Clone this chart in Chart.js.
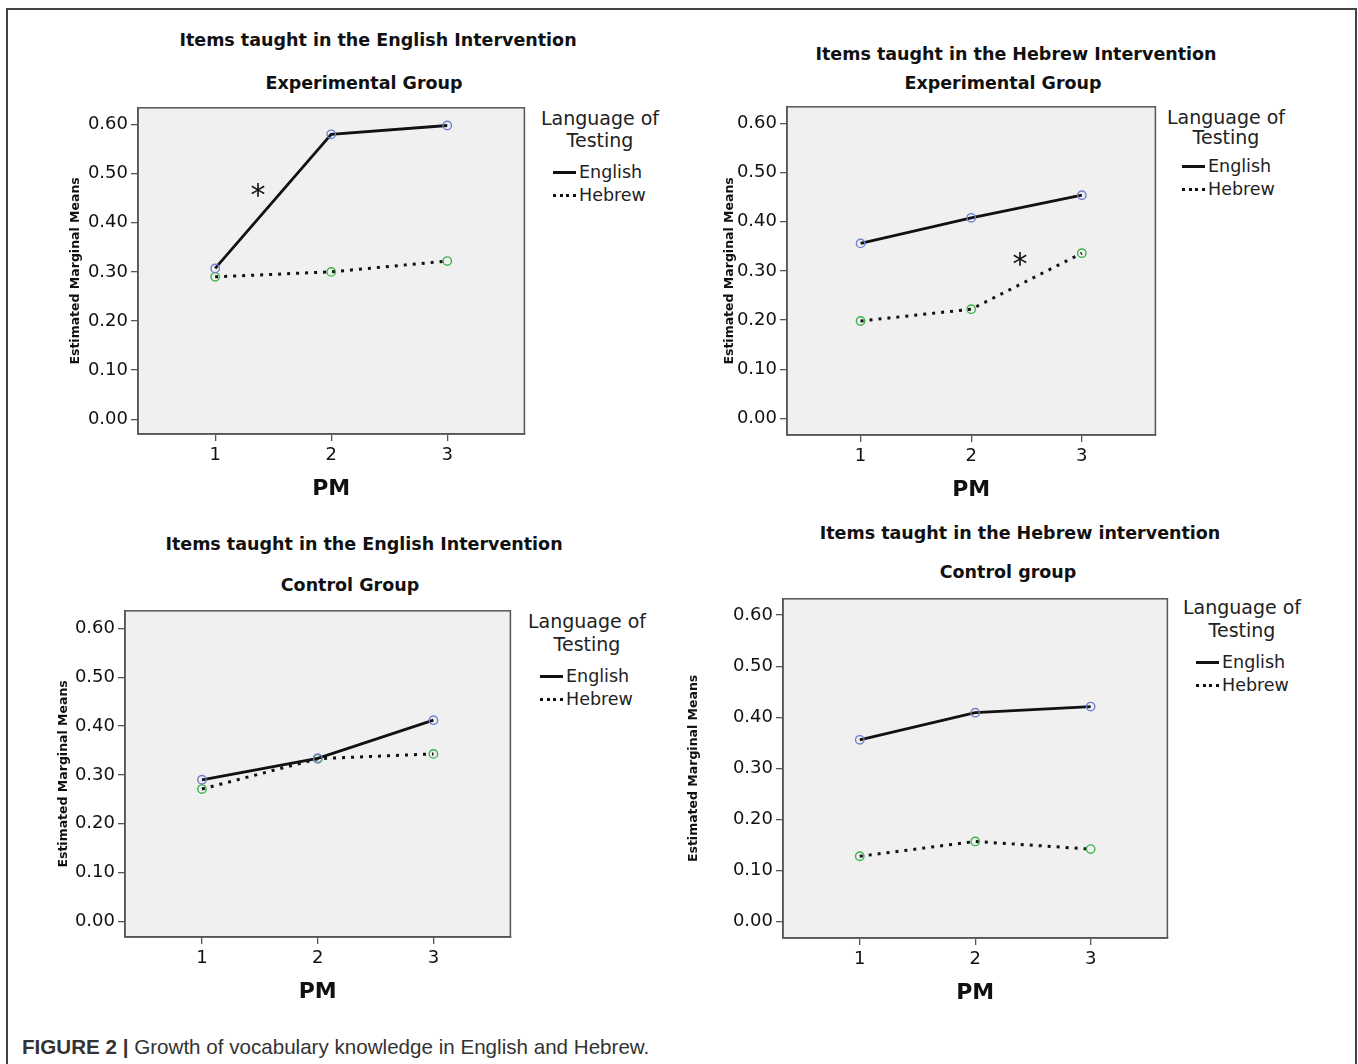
<!DOCTYPE html>
<html lang="en">
<head>
    <meta charset="UTF-8">
    <title>Growth of vocabulary knowledge</title>
    <script src="https://cdn.jsdelivr.net/npm/chart.js"></script>
    <style>
        body {
            margin: 0;
            background: #ffffff;
            font-family: 'DejaVu Sans', sans-serif;
            color: #111;
        }
        #figure {
            position: relative;
            width: 1358px;
            height: 1064px;
            overflow: hidden;
        }
        #frame {
            position: absolute;
            left: 6px;
            top: 8px;
            width: 1347px;
            height: 1070px;
            border: 2px solid #444;
            border-bottom: none;
        }
        canvas { position: absolute; }
        .title {
            position: absolute;
            transform: translate(-50%, -50%);
            white-space: nowrap;
            font-weight: bold;
            font-size: 17.5px;
        }
        .legend-head {
            position: absolute;
            transform: translate(-50%, -50%);
            white-space: nowrap;
            font-size: 19px;
            color: #222;
        }
        .legend-item {
            position: absolute;
            transform: translateY(-50%);
            white-space: nowrap;
            font-size: 17.5px;
            color: #222;
            display: flex;
            align-items: center;
        }
        .legend-item .swatch {
            display: inline-block;
            width: 23px;
            margin-right: 3px;
            border-top: 3px solid #111;
        }
        .legend-item .swatch.dotted { border-top-style: dotted; }
        #caption {
            position: absolute;
            left: 22px;
            top: 1035px;
            font-family: 'Liberation Sans', Arial, sans-serif;
            font-size: 20.6px;
            color: #333;
        }
    </style>
</head>
<body>
<div id="figure">
    <div id="frame"></div>
    <div id="caption"><b>FIGURE 2 |</b> Growth of vocabulary knowledge in English and Hebrew.</div>
</div>

<script>
    // data
    const pmLevels = [1, 2, 3];
    const yTickValues = [0, 0.1, 0.2, 0.3, 0.4, 0.5, 0.6];

    const engInterventionExpEnglish = [0.307, 0.580, 0.598];
    const engInterventionExpHebrew  = [0.290, 0.300, 0.322];

    const hebInterventionExpEnglish = [0.356, 0.408, 0.454];
    const hebInterventionExpHebrew  = [0.198, 0.222, 0.336];

    const engInterventionCtrlEnglish = [0.290, 0.334, 0.412];
    const engInterventionCtrlHebrew  = [0.271, 0.333, 0.343];

    const hebInterventionCtrlEnglish = [0.356, 0.409, 0.421];
    const hebInterventionCtrlHebrew  = [0.128, 0.157, 0.142];

    const seriesNames = ['English', 'Hebrew'];

    // layout of the four panels (pixel boxes of the plot areas)
    const panels = [
        {
            title: 'Items taught in the English Intervention', titlePos: [378, 40],
            group: 'Experimental Group', groupPos: [364, 83],
            box: { left: 138, top: 98, right: 526, bottom: 434 }, yRange: [-0.03, 0.634], yW: 70,
            english: engInterventionExpEnglish, hebrew: engInterventionExpHebrew,
            legend: { cx: 600, y: [118, 140, 172, 195], lineX: 553 },
            stars: [{ x: 1.37, y: 0.457 }]
        },
        {
            title: 'Items taught in the Hebrew Intervention', titlePos: [1016, 54],
            group: 'Experimental Group', groupPos: [1003, 83],
            box: { left: 787, top: 97, right: 1157, bottom: 435 }, yRange: [-0.034, 0.634], yW: 65,
            english: hebInterventionExpEnglish, hebrew: hebInterventionExpHebrew,
            legend: { cx: 1226, y: [117, 137, 166, 189], lineX: 1182 },
            stars: [{ x: 2.44, y: 0.313 }]
        },
        {
            title: 'Items taught in the English Intervention', titlePos: [364, 544],
            group: 'Control Group', groupPos: [350, 585],
            box: { left: 125, top: 601, right: 512, bottom: 937 }, yRange: [-0.032, 0.636], yW: 69,
            english: engInterventionCtrlEnglish, hebrew: engInterventionCtrlHebrew,
            legend: { cx: 587, y: [621, 644, 676, 699], lineX: 540 },
            stars: []
        },
        {
            title: 'Items taught in the Hebrew intervention', titlePos: [1020, 533],
            group: 'Control group', groupPos: [1008, 572],
            box: { left: 783, top: 589, right: 1169, bottom: 938 }, yRange: [-0.032, 0.632], yW: 97,
            english: hebInterventionCtrlEnglish, hebrew: hebInterventionCtrlHebrew,
            legend: { cx: 1242, y: [607, 630, 662, 685], lineX: 1196 },
            stars: []
        }
    ];

    const figure = document.getElementById('figure');
    const X_MARGIN = 0.665;
    const X_AXIS_H = 68;
    const PAD = 4;

    function addText(cls, text, x, y) {
        const el = document.createElement('div');
        el.className = cls;
        el.textContent = text;
        el.style.left = x + 'px';
        el.style.top = y + 'px';
        figure.appendChild(el);
        return el;
    }

    // grey plot background and box outline like SPSS
    const plotBox = {
        id: 'plotBox',
        beforeDraw(chart) {
            const a = chart.chartArea, c = chart.ctx;
            c.save();
            c.fillStyle = '#f0f0f0';
            c.fillRect(a.left, a.top, a.right - a.left, a.bottom - a.top);
            c.restore();
        },
        beforeDatasetsDraw(chart) {
            const a = chart.chartArea, c = chart.ctx;
            c.save();
            c.strokeStyle = '#555';
            c.lineWidth = 1.5;
            c.strokeRect(a.left, a.top, a.right - a.left, a.bottom - a.top);
            c.restore();
        },
        afterDatasetsDraw(chart, args, opts) {
            const c = chart.ctx;
            c.save();
            c.fillStyle = '#111';
            c.font = '30px "DejaVu Sans"';
            c.textAlign = 'center';
            c.textBaseline = 'middle';
            (opts.stars || []).forEach(s => {
                c.fillText('*', chart.scales.x.getPixelForValue(s.x), chart.scales.y.getPixelForValue(s.y) + 2);
            });
            c.restore();
        }
    };

    panels.forEach(p => {
        addText('title', p.title, p.titlePos[0], p.titlePos[1]);
        addText('title', p.group, p.groupPos[0], p.groupPos[1]);

        addText('legend-head', 'Language of', p.legend.cx, p.legend.y[0]);
        addText('legend-head', 'Testing', p.legend.cx, p.legend.y[1]);
        seriesNames.forEach((name, i) => {
            const el = document.createElement('div');
            el.className = 'legend-item';
            el.style.left = p.legend.lineX + 'px';
            el.style.top = p.legend.y[2 + i] + 'px';
            el.innerHTML = '<span class="swatch' + (i ? ' dotted' : '') + '"></span>' + name;
            figure.appendChild(el);
        });

        const b = p.box;
        const canvas = document.createElement('canvas');
        const w = (b.right - b.left) + p.yW + PAD;
        const h = (b.bottom - b.top) + PAD + X_AXIS_H;
        canvas.width = w;
        canvas.height = h;
        canvas.style.width = w + 'px';
        canvas.style.height = h + 'px';
        canvas.style.left = (b.left - p.yW) + 'px';
        canvas.style.top = (b.top - PAD) + 'px';
        figure.appendChild(canvas);

        new Chart(canvas.getContext('2d'), {
            type: 'line',
            data: {
                datasets: [
                    {
                        label: seriesNames[0],
                        data: pmLevels.map((x, i) => ({ x: x, y: p.english[i] })),
                        borderColor: '#111',
                        borderWidth: 2.8,
                        pointRadius: 4.2,
                        pointBorderWidth: 1.4,
                        pointBorderColor: '#6f7fcf',
                        pointBackgroundColor: 'rgba(0,0,0,0)'
                    },
                    {
                        label: seriesNames[1],
                        data: pmLevels.map((x, i) => ({ x: x, y: p.hebrew[i] })),
                        borderColor: '#111',
                        borderWidth: 3,
                        borderDash: [3, 6],
                        pointRadius: 4.2,
                        pointBorderWidth: 1.4,
                        pointBorderColor: '#3cb44b',
                        pointBackgroundColor: 'rgba(0,0,0,0)'
                    }
                ]
            },
            options: {
                responsive: false,
                animation: false,
                devicePixelRatio: 1,
                layout: { padding: { top: PAD, right: PAD, left: 0, bottom: 0 } },
                plugins: {
                    legend: { display: false },
                    tooltip: { enabled: false },
                    plotBox: { stars: p.stars }
                },
                scales: {
                    x: {
                        type: 'linear',
                        min: 1 - X_MARGIN,
                        max: 3 + X_MARGIN,
                        afterBuildTicks: s => { s.ticks = pmLevels.map(v => ({ value: v })); },
                        afterFit: s => { s.height = X_AXIS_H; },
                        grid: { drawOnChartArea: false, drawTicks: true, tickLength: 7, color: '#555', lineWidth: 1.3 },
                        border: { display: true, color: '#555', width: 1.5 },
                        ticks: {
                            padding: 4,
                            color: '#111',
                            font: { family: 'DejaVu Sans', size: 18 },
                            callback: v => String(v)
                        },
                        title: {
                            display: true,
                            text: 'PM',
                            color: '#111',
                            padding: 0,
                            font: { family: 'DejaVu Sans', size: 22, weight: 'bold' }
                        }
                    },
                    y: {
                        min: p.yRange[0],
                        max: p.yRange[1],
                        afterBuildTicks: s => { s.ticks = yTickValues.map(v => ({ value: v })); },
                        afterFit: s => { s.width = p.yW; },
                        grid: { drawOnChartArea: false, drawTicks: true, tickLength: 7, color: '#555', lineWidth: 1.3 },
                        border: { display: true, color: '#555', width: 1.5 },
                        ticks: {
                            padding: 3,
                            color: '#111',
                            font: { family: 'DejaVu Sans', size: 18 },
                            callback: v => Number(v).toFixed(2)
                        },
                        title: {
                            display: true,
                            text: 'Estimated Marginal Means',
                            color: '#111',
                            padding: 0,
                            font: { family: 'DejaVu Sans', size: 12.5, weight: 'bold' }
                        }
                    }
                }
            },
            plugins: [plotBox]
        });
    });
</script>
</body>
</html>
